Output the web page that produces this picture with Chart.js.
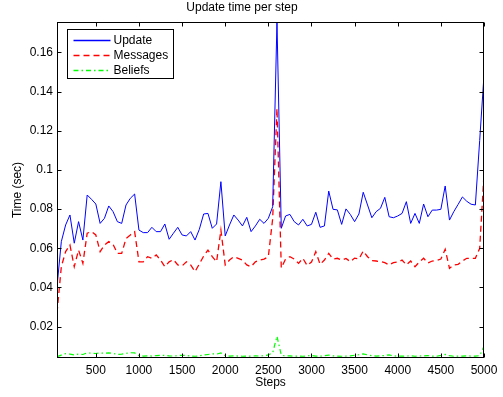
<!DOCTYPE html>
<html><head><meta charset="utf-8">
<script src="https://cdn.jsdelivr.net/npm/chart.js@4/dist/chart.umd.min.js"></script>
<style>html,body{margin:0;padding:0;background:#fff;overflow:hidden}canvas{display:block}</style>
</head><body>
<canvas id="c" width="503" height="397"></canvas>
<script>
const steps = [50,100,150,200,250,300,350,400,450,500,550,600,650,700,750,800,850,900,950,1000,
1050,1100,1150,1200,1250,1300,1350,1400,1450,1500,1550,1600,1650,1700,1750,1800,1850,1900,1950,2000,
2050,2100,2150,2200,2250,2300,2350,2400,2450,2500,2550,2600,2650,2700,2750,2800,2850,2900,2950,3000,
3050,3100,3150,3200,3250,3300,3350,3400,3450,3500,3550,3600,3650,3700,3750,3800,3850,3900,3950,4000,
4050,4100,4150,4200,4250,4300,4350,4400,4450,4500,4550,4600,4650,4700,4750,4800,4850,4900,4950,5000];

const updateTime = [0.0404,0.0634,0.0719,0.0770,0.0626,0.0736,0.0642,0.0872,0.0850,0.0826,
0.0727,0.0753,0.0816,0.0787,0.0736,0.0727,0.0821,0.0855,0.0877,0.0693,
0.0680,0.0680,0.0707,0.0685,0.0685,0.0724,0.0646,0.0677,0.0707,0.0668,
0.0663,0.0685,0.0642,0.0697,0.0775,0.0778,0.0702,0.0724,0.0940,0.0663,
0.0719,0.0770,0.0744,0.0714,0.0758,0.0685,0.0714,0.0748,0.0727,0.0753,
0.0812,0.1755,0.0702,0.0765,0.0773,0.0736,0.0719,0.0748,0.0714,0.0722,
0.0784,0.0707,0.0714,0.0892,0.0799,0.0796,0.0722,0.0801,0.0773,0.0736,
0.0775,0.0886,0.0821,0.0756,0.0787,0.0804,0.0860,0.0761,0.0756,0.0765,
0.0778,0.0838,0.0727,0.0778,0.0727,0.0826,0.0761,0.0795,0.0795,0.0799,
0.0918,0.0744,0.0787,0.0824,0.0862,0.0840,0.0825,0.0821,0.1150,0.1484];

const messagesTime = [0.0270,0.0506,0.0583,0.0617,0.0506,0.0591,0.0523,0.0677,0.0685,0.0668,
0.0583,0.0617,0.0634,0.0620,0.0574,0.0574,0.0650,0.0668,0.0685,0.0531,
0.0531,0.0557,0.0549,0.0566,0.0540,0.0506,0.0531,0.0542,0.0515,0.0510,
0.0531,0.0515,0.0481,0.0520,0.0560,0.0591,0.0557,0.0531,0.0693,0.0515,
0.0540,0.0557,0.0549,0.0540,0.0515,0.0506,0.0531,0.0540,0.0545,0.0557,
0.0750,0.1314,0.0500,0.0545,0.0557,0.0545,0.0523,0.0549,0.0512,0.0530,
0.0583,0.0518,0.0540,0.0574,0.0545,0.0549,0.0540,0.0548,0.0532,0.0550,
0.0545,0.0586,0.0557,0.0537,0.0535,0.0532,0.0527,0.0515,0.0527,0.0530,
0.0540,0.0515,0.0535,0.0506,0.0530,0.0549,0.0525,0.0535,0.0538,0.0545,
0.0595,0.0498,0.0515,0.0518,0.0535,0.0549,0.0549,0.0549,0.0600,0.0980];

const beliefsTime = [0.0047,0.0055,0.0062,0.0060,0.0056,0.0060,0.0058,0.0066,0.0065,0.0063,
0.0066,0.0064,0.0066,0.0063,0.0058,0.0060,0.0064,0.0067,0.0066,0.0052,
0.0050,0.0051,0.0050,0.0052,0.0054,0.0053,0.0051,0.0050,0.0052,0.0054,
0.0053,0.0050,0.0049,0.0051,0.0055,0.0058,0.0061,0.0060,0.0066,0.0052,
0.0050,0.0051,0.0050,0.0049,0.0050,0.0049,0.0051,0.0050,0.0052,0.0056,
0.0066,0.0151,0.0055,0.0050,0.0051,0.0049,0.0050,0.0049,0.0051,0.0053,
0.0050,0.0049,0.0052,0.0055,0.0051,0.0050,0.0049,0.0050,0.0051,0.0054,
0.0057,0.0061,0.0056,0.0052,0.0050,0.0051,0.0053,0.0056,0.0051,0.0049,
0.0050,0.0050,0.0051,0.0049,0.0050,0.0051,0.0052,0.0050,0.0049,0.0053,
0.0058,0.0052,0.0049,0.0050,0.0050,0.0051,0.0050,0.0050,0.0052,0.0100];

const xTicks = [500,1000,1500,2000,2500,3000,3500,4000,4500,5000];
const yTicks = [0.02,0.04,0.06,0.08,0.1,0.12,0.14,0.16];
const seriesNames = ['Update','Messages','Beliefs'];
const seriesColors = ['#0000ff','#ff0000','#00ff00'];
const seriesDash = [[], [6, 4], [5, 3, 1.5, 3]];
const seriesWidth = [1, 1.3, 1.2];
const chartTitle = 'Update time per step';
const xTitle = 'Steps';
const yTitle = 'Time (sec)';

const FONT = '"Liberation Sans", Arial, Helvetica, sans-serif';
const toXY = vals => steps.map((s, i) => ({x: s, y: vals[i]}));

const framePlugin = {
  id: 'frame',
  afterDatasetsDraw(chart) {
    const {ctx, chartArea: a, scales: {x, y}} = chart;
    ctx.save();
    ctx.setLineDash([]);
    ctx.strokeStyle = '#000';
    ctx.lineWidth = 1;
    const L = Math.round(a.left) + 0.5, R = Math.round(a.right) - 0.5;
    const T = Math.round(a.top) + 0.5, B = Math.round(a.bottom) - 0.5;
    ctx.strokeRect(L, T, R - L, B - T);
    const tl = 4;
    ctx.beginPath();
    xTicks.forEach(v => {
      const p = Math.round(x.getPixelForValue(v)) + 0.5;
      ctx.moveTo(p, B); ctx.lineTo(p, B - tl);
      ctx.moveTo(p, T); ctx.lineTo(p, T + tl);
    });
    yTicks.forEach(v => {
      const p = Math.round(y.getPixelForValue(v)) + 0.5;
      ctx.moveTo(L, p); ctx.lineTo(L + tl, p);
      ctx.moveTo(R, p); ctx.lineTo(R - tl, p);
    });
    ctx.stroke();

    // legend box inside the plot
    const bx = L + 10, by = T + 7, bw = 106, bh = 49;
    ctx.fillStyle = '#fff';
    ctx.fillRect(bx, by, bw, bh);
    ctx.strokeStyle = '#000';
    ctx.strokeRect(bx, by, bw, bh);
    ctx.font = '12px ' + FONT;
    ctx.textBaseline = 'middle';
    ctx.textAlign = 'left';
    seriesNames.forEach((name, i) => {
      const ry = Math.round(by + 10 + i * 15) + 0.5;
      ctx.save();
      ctx.lineWidth = 1.4;
      ctx.strokeStyle = seriesColors[i];
      ctx.setLineDash(seriesDash[i]);
      ctx.beginPath();
      ctx.moveTo(bx + 6, ry); ctx.lineTo(bx + 43, ry);
      ctx.stroke();
      ctx.restore();
      ctx.fillStyle = '#000';
      ctx.fillText(name, bx + 46, ry);
    });
    ctx.restore();
  }
};

new Chart(document.getElementById('c'), {
  type: 'line',
  data: {
    datasets: seriesNames.map((name, i) => ({
      label: name,
      data: toXY([updateTime, messagesTime, beliefsTime][i]),
      borderColor: seriesColors[i],
      borderWidth: seriesWidth[i],
      borderDash: seriesDash[i],
      pointRadius: 0, tension: 0, fill: false
    }))
  },
  options: {
    responsive: false,
    animation: false,
    layout: {padding: {top: 0, right: 19, bottom: 0, left: 0}},
    plugins: {
      legend: {display: false},
      tooltip: {enabled: false},
      title: {display: true, text: chartTitle, color: '#000', font: {family: FONT, size: 12, weight: 'normal'}, padding: {top: 0, bottom: 7.6}}
    },
    scales: {
      x: {
        type: 'linear', min: 50, max: 5000,
        grid: {display: false, drawTicks: false},
        border: {display: false},
        ticks: {color: '#000', font: {family: FONT, size: 12}, padding: 5, maxRotation: 0, autoSkip: false, callback: v => String(v)},
        afterBuildTicks: s => { s.ticks = xTicks.map(v => ({value: v})); },
        afterFit: s => { s.height = 39; },
        title: {display: true, text: xTitle, color: '#000', font: {family: FONT, size: 12}, padding: {top: 0, bottom: 6.8}}
      },
      y: {
        type: 'linear', min: 0.004, max: 0.1755,
        grid: {display: false, drawTicks: false},
        border: {display: false},
        ticks: {color: '#000', font: {family: FONT, size: 12}, padding: 4, autoSkip: false, callback: v => String(v)},
        afterBuildTicks: s => { s.ticks = yTicks.map(v => ({value: v})); },
        afterFit: s => { s.width = 57; },
        title: {display: true, text: yTitle, color: '#000', font: {family: FONT, size: 12}, padding: {top: 10.8, bottom: 0}}
      }
    }
  },
  plugins: [framePlugin]
});
</script>
</body></html>
